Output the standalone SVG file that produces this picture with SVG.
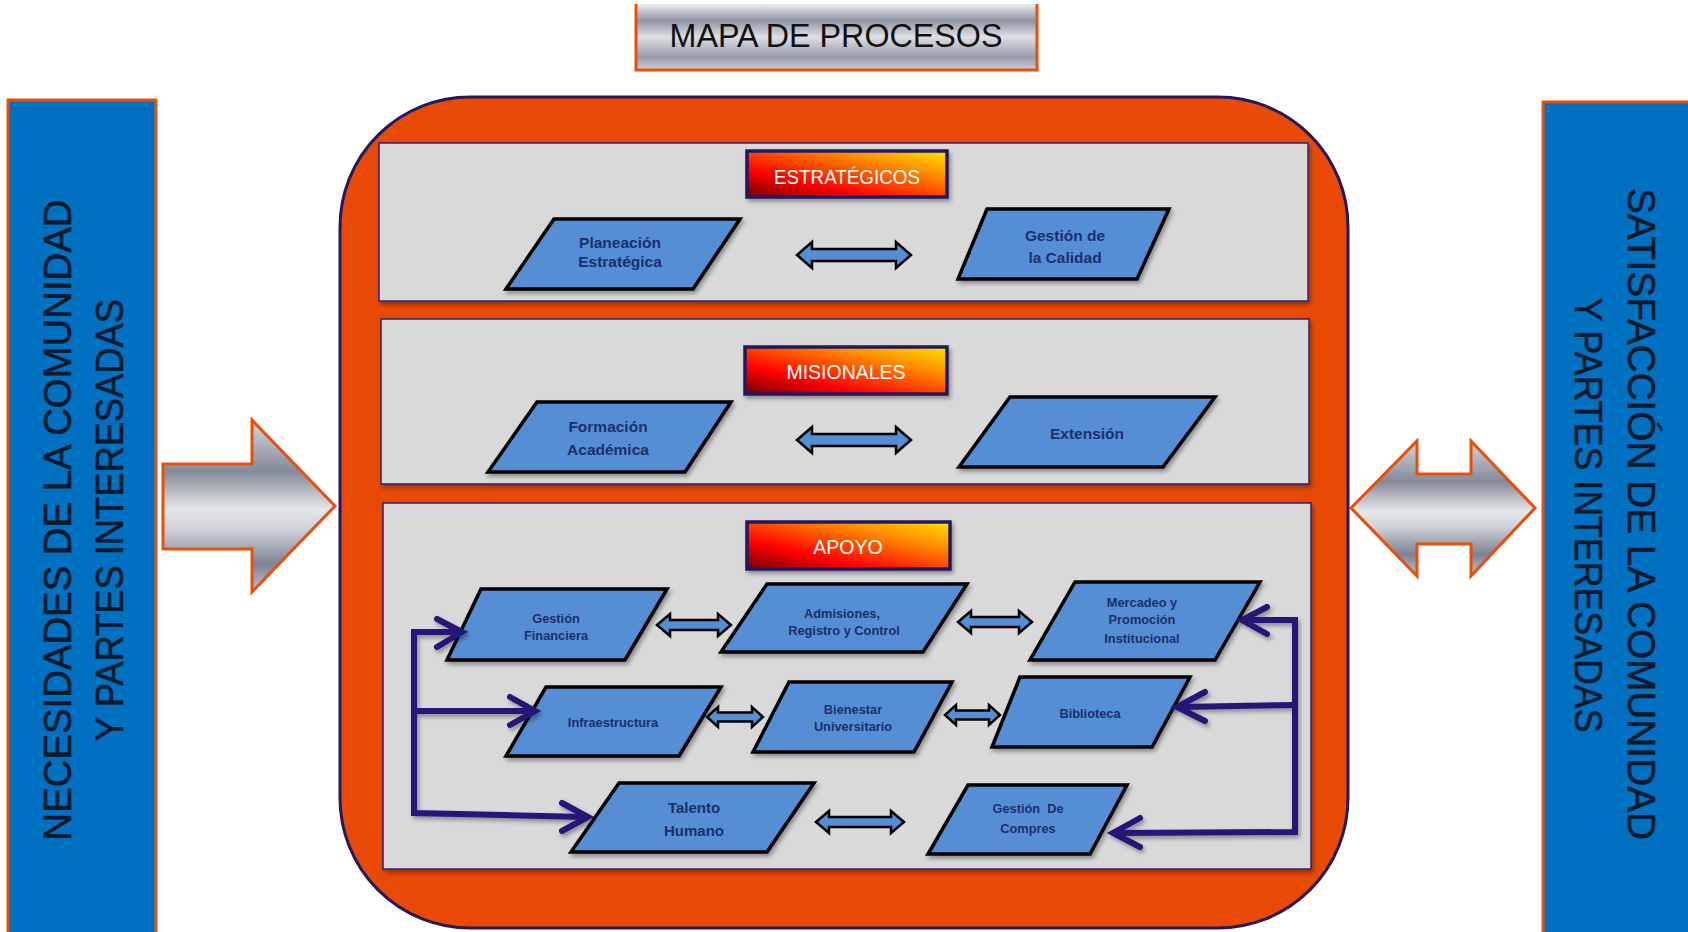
<svg xmlns="http://www.w3.org/2000/svg" width="1688" height="932" viewBox="0 0 1688 932">
  <defs>
    <!-- brushed-metal fill for the title bar and the block arrows -->
    <linearGradient id="metal" x1="0" y1="0" x2="0" y2="1">
      <stop offset="0" stop-color="#d4d6db"/>
      <stop offset="0.3" stop-color="#858a9a"/>
      <stop offset="0.52" stop-color="#e6e7ea"/>
      <stop offset="0.64" stop-color="#cdd0d6"/>
      <stop offset="0.84" stop-color="#7d8293"/>
      <stop offset="1" stop-color="#c2c5cc"/>
    </linearGradient>
    <linearGradient id="metalBar" x1="0" y1="0" x2="0" y2="1">
      <stop offset="0" stop-color="#eceded"/>
      <stop offset="0.25" stop-color="#8f94a3"/>
      <stop offset="0.5" stop-color="#dfe0e3"/>
      <stop offset="0.8" stop-color="#979bab"/>
      <stop offset="1" stop-color="#cdcfd5"/>
    </linearGradient>
    <!-- red-to-yellow fill of the section tags -->
    <linearGradient id="flame" x1="0" y1="1" x2="1" y2="0">
      <stop offset="0" stop-color="#6e0000"/>
      <stop offset="0.3" stop-color="#ff0000"/>
      <stop offset="0.7" stop-color="#ff8a00"/>
      <stop offset="1" stop-color="#ffe400"/>
    </linearGradient>
    <filter id="shadow" x="-10%" y="-10%" width="125%" height="130%">
      <feDropShadow dx="2" dy="3" stdDeviation="2" flood-color="#000" flood-opacity="0.35"/>
    </filter>
    <!-- canvas-wide region so straight horizontal strokes keep their shadow -->
    <filter id="lineShadow" filterUnits="userSpaceOnUse" x="0" y="0" width="1688" height="932">
      <feDropShadow dx="2" dy="3" stdDeviation="2" flood-color="#000" flood-opacity="0.35"/>
    </filter>
  </defs>
  <style>
    .side { fill:#0070c0; stroke:#e8500a; stroke-width:3; }
    .sideText { font-family:"Liberation Sans", Arial, sans-serif; font-size:39px; fill:#0e1a2b; stroke:#0e1a2b; stroke-width:0.6; text-anchor:middle; }
    .frame { fill:#e84a06; stroke:#22195e; stroke-width:3; }
    .panel { fill:#d9d9d9; stroke:#2b2470; stroke-width:1.5; filter:url(#shadow); }
    .tag { fill:url(#flame); stroke:#24185f; stroke-width:3.5; filter:url(#shadow); }
    .tagText { font-family:"Liberation Sans", Arial, sans-serif; font-size:19.5px; fill:#ffffff; text-anchor:middle; }
    .proc { fill:#558ed5; stroke:#000000; stroke-width:3.5; stroke-linejoin:miter; filter:url(#shadow); }
    .procText { font-family:"Liberation Sans", Arial, sans-serif; font-weight:bold; fill:#1b2f6e; text-anchor:middle; }
    .lg { font-size:15.5px; }
    .sm { font-size:12.8px; }
    .link { fill:#558ed5; stroke:#000000; stroke-width:2.5; stroke-linejoin:miter; }
    .feed { fill:none; stroke:#26157a; stroke-width:6; stroke-linecap:round; stroke-linejoin:miter; }
    .bigArrow { fill:url(#metal); stroke:#e8500a; stroke-width:3; }
  </style>

  <!-- title -->
  <g id="title">
    <rect x="636" y="4" width="401" height="66" fill="url(#metalBar)"/>
    <path d="M636,4 V70 H1037 V4" fill="none" stroke="#e8500a" stroke-width="3"/>
    <text x="836" y="47" font-family="Liberation Sans, Arial, sans-serif" font-size="33" fill="#111111" text-anchor="middle" textLength="333" lengthAdjust="spacingAndGlyphs">MAPA DE PROCESOS</text>
  </g>

  <!-- input side -->
  <g id="necesidades">
    <rect class="side" x="8" y="100" width="148" height="834"/>
    <text class="sideText" transform="translate(71,520) rotate(-90)" textLength="641" lengthAdjust="spacingAndGlyphs">NECESIDADES  DE LA COMUNIDAD</text>
    <text class="sideText" transform="translate(123,520) rotate(-90)" textLength="442" lengthAdjust="spacingAndGlyphs">Y PARTES INTERESADAS</text>
  </g>

  <!-- output side -->
  <g id="satisfaccion">
    <rect class="side" x="1543" y="102" width="148" height="832"/>
    <text class="sideText" transform="translate(1628,514) rotate(90)" textLength="652" lengthAdjust="spacingAndGlyphs">SATISFACCIÓN  DE LA COMUNIDAD</text>
    <text class="sideText" transform="translate(1575,515) rotate(90)" textLength="435" lengthAdjust="spacingAndGlyphs">Y PARTES INTERESADAS</text>
  </g>

  <!-- block arrows in and out of the process map -->
  <g id="flujo-entrada">
    <path class="bigArrow" d="M163,464 H252 V420 L335,506 L252,592 V549 H163 Z"/>
  </g>
  <g id="flujo-salida">
    <path class="bigArrow" d="M1351,508 L1417,441 V474 H1471 V441 L1535,508 L1471,576 V544 H1417 V576 Z"/>
  </g>

  <!-- process map frame -->
  <g id="mapa">
    <rect class="frame" x="340" y="97" width="1008" height="831" rx="130" ry="130"/>
  </g>

  <!-- strategic processes -->
  <g id="estrategicos">
    <rect class="panel" x="379" y="143" width="929" height="158"/>
    <rect class="tag" x="747" y="151" width="200" height="46"/>
    <text class="tagText" x="847" y="184" textLength="146" lengthAdjust="spacingAndGlyphs">ESTRATÉGICOS</text>
  </g>
  <g id="planeacion">
    <polygon class="proc" points="554,219 740,219 693,289 506,289"/>
    <text class="procText lg" x="620" y="248">Planeación</text>
    <text class="procText lg" x="620" y="267">Estratégica</text>
  </g>
  <g id="calidad">
    <polygon class="proc" points="987,209 1169,209 1137,279 958,279"/>
    <text class="procText lg" x="1065" y="241">Gestión de</text>
    <text class="procText lg" x="1065" y="263">la Calidad</text>
  </g>

  <!-- mission processes -->
  <g id="misionales">
    <rect class="panel" x="381" y="319" width="928" height="165"/>
    <rect class="tag" x="745" y="347" width="202" height="47"/>
    <text class="tagText" x="846" y="379">MISIONALES</text>
  </g>
  <g id="formacion">
    <polygon class="proc" points="537,402 731,402 685,472 488,472"/>
    <text class="procText lg" x="608" y="432">Formación</text>
    <text class="procText lg" x="608" y="455">Académica</text>
  </g>
  <g id="extension">
    <polygon class="proc" points="1010,397 1215,397 1163,467 959,467"/>
    <text class="procText lg" x="1087" y="439">Extensión</text>
  </g>

  <!-- support processes -->
  <g id="apoyo">
    <rect class="panel" x="383" y="503" width="928" height="366"/>
    <rect class="tag" x="747" y="522" width="203" height="47"/>
    <text class="tagText" x="848" y="554">APOYO</text>
  </g>
  <g id="financiera">
    <polygon class="proc" points="481,589 667,589 625,660 447,660"/>
    <text class="procText sm" x="556" y="623">Gestión</text>
    <text class="procText sm" x="556" y="640">Financiera</text>
  </g>
  <g id="admisiones">
    <polygon class="proc" points="767,584 967,584 923,652 721,652"/>
    <text class="procText sm" x="842" y="618">Admisiones,</text>
    <text class="procText sm" x="844" y="635">Registro y Control</text>
  </g>
  <g id="mercadeo">
    <polygon class="proc" points="1075,582 1260,582 1215,660 1030,660"/>
    <text class="procText sm" x="1142" y="607">Mercadeo y</text>
    <text class="procText sm" x="1142" y="624">Promoción</text>
    <text class="procText sm" x="1142" y="643">Institucional</text>
  </g>
  <g id="infraestructura">
    <polygon class="proc" points="546,687 721,687 679,756 506,756"/>
    <text class="procText sm" x="613" y="727">Infraestructura</text>
  </g>
  <g id="bienestar">
    <polygon class="proc" points="789,682 952,682 914,752 753,752"/>
    <text class="procText sm" x="853" y="714">Bienestar</text>
    <text class="procText sm" x="853" y="731">Universitario</text>
  </g>
  <g id="biblioteca">
    <polygon class="proc" points="1020,677 1190,677 1152,747 992,747"/>
    <text class="procText sm" x="1090" y="718">Biblioteca</text>
  </g>
  <g id="talento">
    <polygon class="proc" points="619,783 814,783 767,852 571,852"/>
    <text class="procText" font-size="15" x="694" y="813">Talento</text>
    <text class="procText" font-size="15" x="694" y="836">Humano</text>
  </g>
  <g id="compras">
    <polygon class="proc" points="968,785 1127,785 1090,854 928,854"/>
    <text class="procText sm" x="1028" y="813" xml:space="preserve">Gestión  De</text>
    <text class="procText sm" x="1028" y="833">Compres</text>
  </g>

  <!-- connectors -->
  <g id="conectores">
    <!-- two-way links between neighbouring processes -->
    <path class="link" d="M797,255 L812,242 V249 H896 V242 L911,255 L896,268 V261 H812 V268 Z"/>
    <path class="link" d="M797,440 L812,427 V434 H896 V427 L911,440 L896,453 V446 H812 V453 Z"/>
    <path class="link" d="M657,625 L670,614 V620 H718 V614 L731,625 L718,636 V630 H670 V636 Z"/>
    <path class="link" d="M958,622 L971,611 V617 H1019 V611 L1032,622 L1019,633 V627 H971 V633 Z"/>
    <path class="link" d="M707,717 L718,707 V712.5 H752 V707 L763,717 L752,727 V721.5 H718 V727 Z"/>
    <path class="link" d="M945,715 L956,705 V710.5 H989 V705 L1000,715 L989,725 V719.5 H956 V725 Z"/>
    <path class="link" d="M816,822 L829,811 V817 H891 V811 L904,822 L891,833 V827 H829 V833 Z"/>

    <!-- feed brackets -->
    <g filter="url(#lineShadow)">
      <!-- left bracket -->
      <path class="feed" d="M460,632 H414 V813 L585,817"/>
      <path class="feed" d="M414,711 H533"/>
      <polyline class="feed" points="437,619 462,632 437,647"/>
      <polyline class="feed" points="510,697 535,711 510,725"/>
      <polyline class="feed" points="562,803 588,817 562,831"/>

      <!-- right bracket -->
      <path class="feed" d="M1244,620 H1295 V832 L1115,833"/>
      <path class="feed" d="M1295,705 L1179,707"/>
      <polyline class="feed" points="1267,607 1242,620 1267,634"/>
      <polyline class="feed" points="1205,692 1177,707 1205,721"/>
      <polyline class="feed" points="1140,818 1113,833 1140,847"/>
    </g>
  </g>
</svg>
